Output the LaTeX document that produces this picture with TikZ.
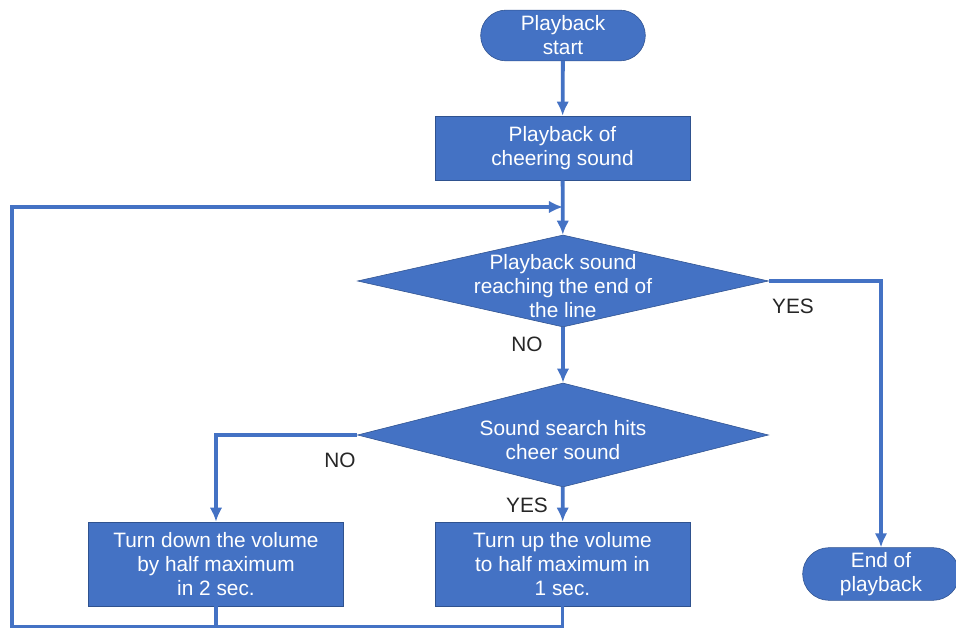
\documentclass[tikz,border=0pt]{standalone}
\usepackage{fontspec}
\setmainfont{Liberation Sans}
\usetikzlibrary{arrows.meta,shapes.geometric,shapes.misc}
\definecolor{boxblue}{RGB}{68,114,196}
\definecolor{rimblue}{RGB}{47,82,143}
\tikzset{>={Latex[length=10pt,width=9pt]}}
\tikzset{
	flow/.style={draw=rimblue, fill=boxblue, thin, text=white, align=center,
		font=\fontsize{14.8}{17}\selectfont},
	terminal/.style={flow, rounded rectangle, minimum width=4.35cm, minimum height=1.27cm},
	process/.style={flow, rectangle, minimum width=6.375cm},
	decision/.style={flow, diamond, inner sep=0pt, minimum width=10.275cm},
	lbl/.style={font=\fontsize{14.8}{17}\selectfont, text=black!85},
	wire/.style={draw=boxblue, line width=2.7pt}
}
% text that does not widen the diamond
\newcommand{\dtext}[1]{\smash{\raisebox{-9pt}{\makebox[0pt]{\begin{tabular}{@{}c@{}}#1\end{tabular}}}}}

\begin{document}
\begin{tikzpicture}[x=0.025cm,y=-0.025cm]
	\useasboundingbox (0,0) rectangle (956,628);
	\node [terminal] (start) at (563,35.5) {Playback\\start};
	\node [process, minimum height=1.6cm] (cheer) at (562.5,148) {Playback of\\cheering sound};
	\node [decision, minimum height=2.3cm] (reach) at (563,281) {\dtext{Playback sound\\reaching the end of\\the line}};
	\node [decision, minimum height=2.6cm] (search) at (563,435) {\dtext{Sound search hits\\cheer sound}};
	\node [process, minimum height=2.1cm] (down) at (216,564) {Turn down the volume\\by half maximum\\in 2 sec.};
	\node [process, minimum height=2.1cm] (up) at (562.5,564) {Turn up the volume\\to half maximum in\\1 sec.};
	\node [terminal, minimum width=4.15cm, minimum height=1.25cm] (stop) at (881,574) {End of\\playback};
	\coordinate (join) at (563,207);
	\coordinate (corner) at (12,627);
	\draw [wire, ->] (start) -- (cheer);
	\draw [wire, ->] (cheer) -- (reach);
	\draw [wire, ->] (reach) -- (search);
	\draw [wire, ->] (reach.east) -| (stop);
	\draw [wire, ->] (search.west) -| (down);
	\draw [wire, ->] (search) -- (up);
	\draw [wire] (down.south) -- (down.south |- corner);
	\draw [wire, ->] (up.south) |- (corner) |- (join);
	\node [lbl] (no1) at (527,344) {NO};
	\node [lbl] (yes1) at (793,306) {YES};
	\node [lbl] (no2) at (340,460) {NO};
	\node [lbl] (yes2) at (527,505) {YES};
\end{tikzpicture}
\end{document}
